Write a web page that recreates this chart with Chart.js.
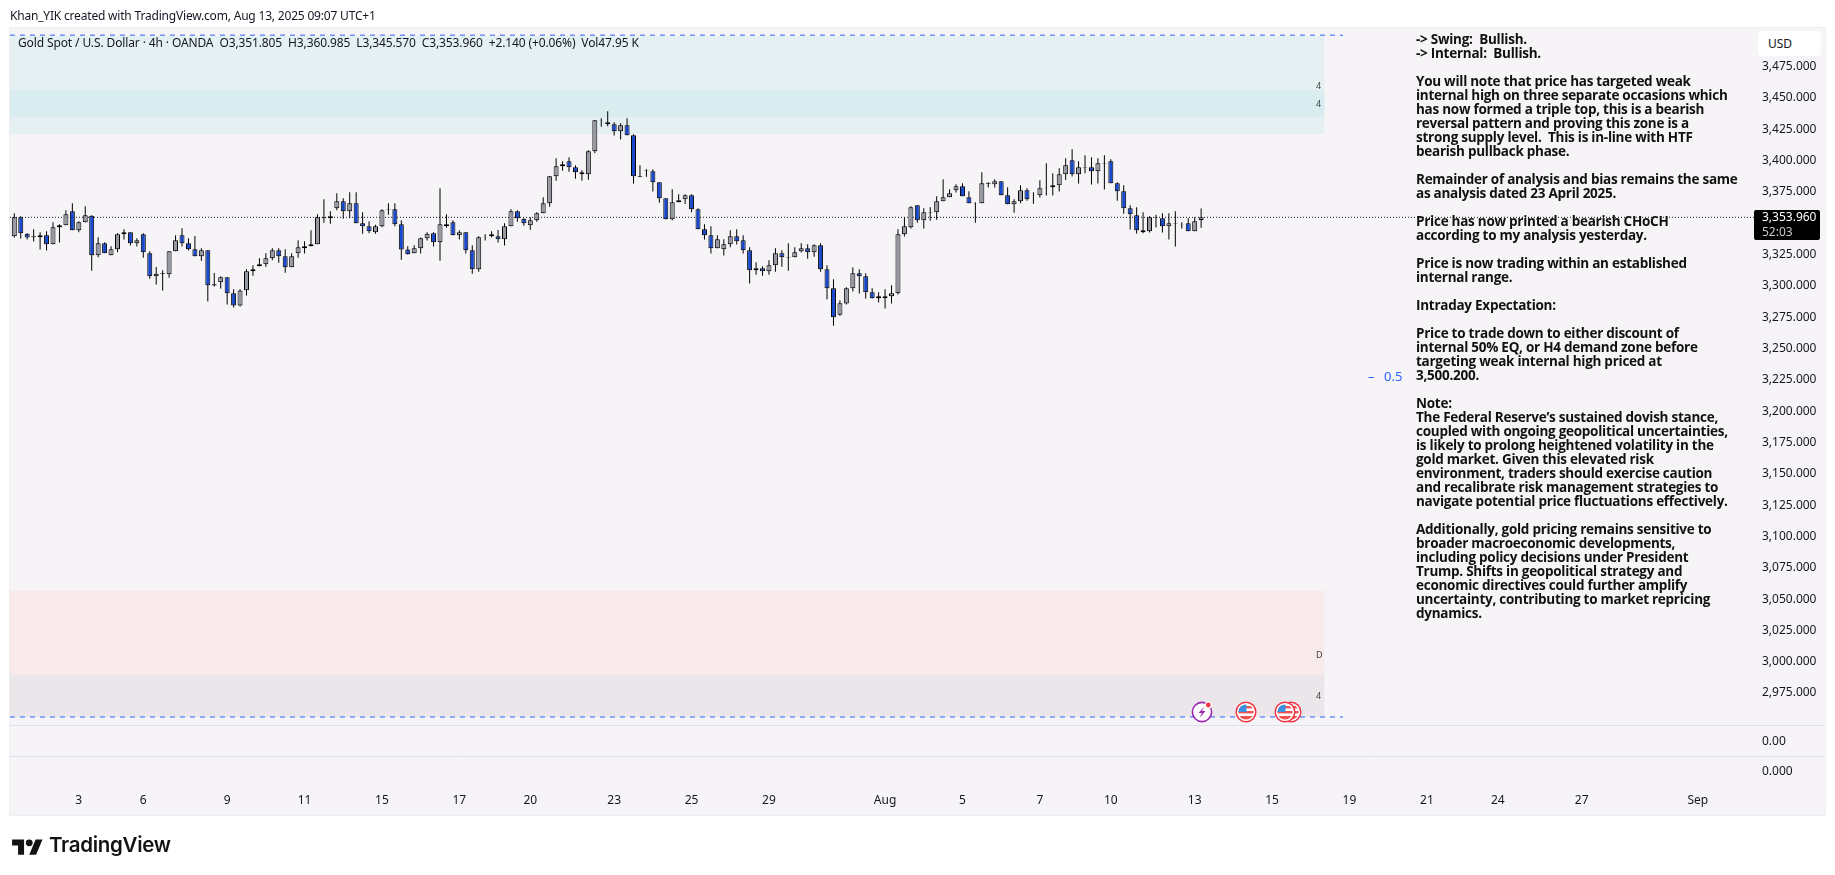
<!DOCTYPE html>
<html>
<head>
<meta charset="utf-8">
<title>Gold Spot / U.S. Dollar</title>
<script src="https://cdn.jsdelivr.net/npm/chart.js@4"></script>
<style>
  html, body { margin: 0; padding: 0; background: #fff; width: 1835px; height: 875px; overflow: hidden; }
  body { font-family: "Noto Sans", sans-serif; color: #131722; }
  #frame { position: absolute; left: 9px; top: 27px; width: 1815px; height: 787px; background: #f6f4f6; border: 1px solid #efeff2; }
  #chart { position: absolute; left: 0; top: 0; }
  .txt { position: absolute; white-space: pre; }
  #note { left: 1416px; top: 32px; font: bold 13.5px/14px "Open Sans", sans-serif; color: #111; letter-spacing: -0.26px; }
  #usd { left: 1758px; top: 31px; width: 53px; height: 25px; padding-left: 10px; background: #fff; border-radius: 4px; font-size: 12px; line-height: 25px; }
  #tag { left: 1754px; top: 210px; width: 58px; height: 30px; padding: 0 0 0 8px; background: #000; color: #fff; border-radius: 2px; font-size: 12px; line-height: 14.5px; }
  #tag span { color: #c8c8c8; }
  .mini { font-size: 9px; color: #444; }
  svg { position: absolute; }
</style>
</head>
<body>
<div id="frame"></div>
<canvas id="chart" width="1835" height="875"></canvas>

<div class="txt" style="left:10px;top:7px;font-size:12px;letter-spacing:-0.19px;">Khan_YIK created with TradingView.com, Aug 13, 2025 09:07 UTC+1</div>
<div class="txt" style="left:18px;top:34px;font-size:12px;letter-spacing:-0.12px;">Gold Spot / U.S. Dollar · 4h · OANDA  O3,351.805  H3,360.985  L3,345.570  C3,353.960  +2.140 (+0.06%)  Vol47.95 K</div>

<div id="note" class="txt"></div>
<div id="usd" class="txt">USD</div>
<div id="tag" class="txt">3,353.960
<span>52:03</span></div>

<div class="txt mini" style="left:1316px;top:79px;">4</div>
<div class="txt mini" style="left:1316px;top:97px;">4</div>
<div class="txt mini" style="left:1316px;top:648px;">D</div>
<div class="txt mini" style="left:1316px;top:689px;">4</div>
<div class="txt" style="left:1368px;top:367px;font-size:13px;color:#2962ff;">–</div>
<div class="txt" style="left:1384px;top:367px;font-size:13px;color:#2962ff;">0.5</div>

<!-- event icons on the time axis -->
<svg style="left:1190px;top:700px" width="24" height="24" viewBox="0 0 24 24">
  <circle cx="12" cy="12" r="9.6" fill="#fff" stroke="#9c27b0" stroke-width="1.6"/>
  <path d="M14.5 6.5 L8.5 13 H12 L9.5 18 L15.5 11 H12 Z" fill="#9c27b0"/>
  <circle cx="18.3" cy="5" r="3.6" fill="#fff"/><circle cx="18.3" cy="5" r="2.4" fill="#f23645"/>
</svg>
<svg width="0" height="0">
  <defs>
    <g id="usFlag">
      <circle cx="12" cy="12" r="9.8" fill="#fff" stroke="#f23645" stroke-width="1.5"/>
      <clipPath id="flagClip"><circle cx="12" cy="12" r="7.6"/></clipPath>
      <g clip-path="url(#flagClip)">
        <rect x="3" y="6" width="18" height="2.4" fill="#ef5350"/>
        <rect x="3" y="11" width="18" height="2.4" fill="#ef5350"/>
        <rect x="3" y="16" width="18" height="4.8" fill="#ef5350"/>
        <rect x="3" y="3" width="9.5" height="9" fill="#3d8fe0"/>
      </g>
    </g>
  </defs>
</svg>
<svg style="left:1234px;top:700px" width="24" height="24"><use href="#usFlag"/></svg>
<svg style="left:1279px;top:700px" width="24" height="24"><use href="#usFlag"/></svg>
<svg style="left:1273px;top:700px" width="24" height="24"><use href="#usFlag"/></svg>

<!-- logo -->
<svg style="left:12px;top:836px" width="31" height="24" viewBox="0 0 36 28">
  <path d="M14 22H7V11H0V4h14v18zM28 22h-8l7.5-18h8L28 22z" fill="#131313"/>
  <circle cx="20" cy="8" r="4" fill="#131313"/>
</svg>
<div class="txt" style="left:49px;top:830px;font:600 20.5px/30px Inter, sans-serif;color:#131313;letter-spacing:-0.3px;">TradingView</div>

<script>
// 4h candles
const opens = [
  3338.8,3354.0,3340.9,3338.8,3338.0,3339.6,3332.4,3346.0,3347.6,3358.8,
  3343.6,3350.0,3355.3,3323.7,3333.2,3323.7,3328.5,3340.4,3342.0,3333.2,
  3340.4,3325.3,3306.9,3309.6,3308.5,3326.9,3339.6,3333.2,3328.5,3322.9,
  3327.7,3300.5,3302.1,3306.1,3293.4,3283.5,3295.7,3310.9,3314.9,3316.5,
  3321.3,3327.7,3322.9,3314.1,3325.3,3329.2,3330.8,3332.4,3354.0,3353.2,
  3361.2,3366.8,3358.8,3365.2,3349.2,3346.8,3342.0,3346.8,3360.4,3360.4,
  3348.4,3328.2,3325.3,3329.2,3337.2,3341.2,3334.0,3348.4,3350.0,3339.6,
  3342.0,3327.7,3312.5,3338.3,3340.4,3338.8,3336.4,3346.8,3358.8,3352.9,
  3347.6,3351.6,3357.2,3365.2,3386.7,3394.7,3398.7,3393.9,3389.9,3388.3,
  3406.7,3431.7,3429.8,3428.2,3422.6,3427.4,3419.4,3386.7,3391.5,3390.7,
  3381.9,3369.1,3352.4,3366.0,3368.4,3371.5,3360.4,3344.4,3339.6,3329.2,
  3328.5,3332.4,3338.8,3335.6,3327.7,3311.7,3313.3,3310.9,3315.7,3325.3,
  3322.1,3322.1,3326.9,3329.2,3326.1,3331.6,3312.5,3297.3,3276.3,3285.1,
  3297.4,3309.3,3306.9,3294.2,3289.4,3289.4,3291.0,3293.4,3340.4,3346.0,
  3363.6,3351.6,3358.0,3358.0,3366.8,3370.0,3375.6,3378.7,3370.0,3365.4,
  3365.2,3381.1,3380.3,3382.7,3371.6,3364.4,3366.8,3375.6,3371.6,3371.6,
  3377.9,3377.9,3379.5,3388.3,3399.5,3388.3,3393.9,3393.9,3390.7,3397.1,
  3398.7,3381.1,3374.8,3361.2,3355.6,3343.6,3342.8,3354.0,3353.2,3346.8,
  3349.2,3348.1,3349.2,3342.8,3351.805
];
const closes = [
  3354.0,3341.2,3337.8,3338.0,3339.6,3332.4,3346.0,3347.6,3356.4,3343.6,
  3350.0,3355.6,3323.7,3333.2,3325.3,3328.5,3340.4,3342.0,3333.2,3335.6,
  3326.1,3306.9,3309.0,3309.0,3326.9,3335.6,3333.2,3328.5,3322.9,3327.7,
  3299.7,3299.5,3306.1,3293.4,3283.5,3295.5,3310.9,3312.5,3316.5,3321.3,
  3327.7,3322.9,3314.1,3322.9,3330.0,3330.8,3332.4,3354.0,3353.2,3354.8,
  3366.8,3358.8,3365.2,3349.2,3346.8,3342.8,3346.8,3359.6,3360.1,3348.4,
  3328.2,3324.5,3329.2,3337.2,3340.9,3334.0,3348.4,3346.8,3339.6,3342.0,
  3327.7,3312.5,3338.0,3338.0,3338.8,3336.4,3346.8,3358.8,3353.2,3349.2,
  3351.6,3357.2,3365.2,3386.7,3394.7,3396.3,3393.9,3389.9,3388.3,3406.7,
  3431.4,3431.4,3428.2,3422.6,3427.4,3419.4,3386.7,3386.2,3391.2,3381.9,
  3369.1,3352.4,3366.0,3367.6,3371.5,3360.4,3344.4,3339.6,3329.2,3336.4,
  3332.4,3338.8,3334.8,3327.7,3311.7,3313.3,3310.9,3315.7,3325.3,3322.1,
  3321.8,3326.1,3329.2,3326.1,3331.6,3312.5,3297.3,3274.2,3285.4,3297.4,
  3309.3,3306.9,3294.2,3289.4,3291.0,3291.0,3293.4,3340.4,3346.8,3362.0,
  3351.6,3358.0,3357.7,3366.8,3370.0,3373.2,3378.7,3370.8,3365.2,3365.2,
  3381.1,3380.6,3382.7,3371.6,3364.4,3366.8,3375.6,3368.4,3371.3,3377.1,
  3377.7,3379.5,3388.3,3395.5,3388.3,3393.9,3393.6,3390.7,3397.1,3396.8,
  3381.1,3374.8,3361.2,3356.4,3343.6,3342.0,3354.0,3353.7,3346.8,3349.2,
  3348.9,3347.6,3342.8,3350.8,3353.96
];
const highs = [
  3357.2,3354.8,3341.2,3344.4,3342.0,3342.8,3350.0,3348.4,3359.6,3365.2,
  3350.8,3362.8,3355.6,3338.0,3334.0,3330.8,3341.2,3344.4,3342.0,3337.2,
  3341.2,3326.9,3314.4,3311.7,3326.9,3339.6,3345.2,3337.2,3339.1,3329.2,
  3327.7,3309.6,3306.9,3306.1,3296.5,3296.5,3312.5,3315.7,3321.3,3325.3,
  3329.2,3329.2,3328.5,3325.3,3335.6,3334.8,3343.6,3356.4,3368.4,3358.8,
  3373.1,3369.1,3373.9,3373.9,3358.0,3350.8,3348.1,3360.4,3365.2,3365.2,
  3351.6,3330.8,3331.6,3337.8,3342.0,3342.0,3377.1,3356.4,3351.6,3343.6,
  3342.0,3331.6,3338.8,3340.4,3342.8,3343.9,3349.2,3360.4,3359.6,3353.2,
  3354.0,3358.0,3369.9,3387.0,3401.1,3398.7,3401.9,3395.5,3391.5,3407.5,
  3431.7,3433.0,3438.6,3429.8,3429.0,3433.0,3420.2,3395.5,3392.3,3392.3,
  3381.9,3369.1,3376.3,3372.3,3372.3,3372.3,3361.2,3348.4,3346.8,3339.6,
  3336.4,3343.6,3344.4,3339.6,3330.0,3318.1,3314.9,3319.7,3329.2,3327.7,
  3333.2,3330.0,3333.2,3332.4,3332.4,3333.2,3315.7,3304.5,3287.8,3298.1,
  3314.1,3312.5,3309.3,3297.4,3294.2,3296.5,3299.7,3344.4,3354.0,3362.8,
  3363.6,3361.2,3362.0,3370.8,3384.3,3376.4,3380.3,3381.1,3374.8,3366.0,
  3389.9,3381.9,3384.3,3382.7,3377.9,3368.4,3379.5,3377.1,3373.9,3383.5,
  3397.1,3389.1,3393.1,3401.1,3408.3,3398.7,3403.5,3401.9,3401.1,3403.5,
  3400.3,3381.9,3379.5,3363.6,3362.0,3358.0,3354.8,3356.1,3357.2,3357.2,
  3358.8,3350.0,3353.2,3354.0,3360.985
];
const lows = [
  3337.8,3337.0,3336.2,3334.6,3328.2,3327.4,3332.4,3333.8,3347.6,3343.6,
  3342.0,3350.0,3311.4,3322.1,3325.3,3323.7,3326.1,3336.2,3331.4,3330.6,
  3321.8,3305.0,3300.3,3295.5,3305.8,3326.9,3330.6,3327.4,3322.9,3319.4,
  3286.7,3298.7,3297.1,3284.3,3281.9,3282.7,3291.5,3307.4,3314.9,3314.6,
  3319.7,3317.8,3309.8,3314.1,3321.8,3325.0,3330.8,3332.4,3349.7,3348.9,
  3359.6,3352.9,3353.2,3349.2,3340.9,3341.2,3340.9,3346.0,3356.1,3346.8,
  3320.2,3324.2,3325.3,3325.0,3335.4,3330.6,3319.4,3345.7,3339.6,3336.2,
  3325.0,3309.0,3310.6,3335.4,3337.8,3333.8,3331.4,3346.8,3350.5,3347.3,
  3344.1,3350.5,3357.2,3362.5,3383.2,3391.2,3390.4,3384.8,3383.2,3384.0,
  3405.1,3426.3,3426.6,3419.2,3416.0,3419.4,3380.9,3385.9,3386.4,3374.5,
  3365.7,3352.4,3351.6,3366.0,3364.6,3358.0,3344.4,3336.2,3325.0,3329.2,
  3323.4,3330.0,3332.2,3325.0,3301.1,3308.2,3307.4,3308.2,3310.6,3314.6,
  3311.4,3322.1,3325.8,3321.0,3322.6,3310.6,3288.6,3267.5,3275.5,3284.3,
  3294.7,3293.1,3289.1,3289.1,3285.9,3281.1,3285.1,3292.3,3338.6,3345.0,
  3349.7,3345.0,3351.3,3352.1,3366.8,3370.0,3373.7,3370.8,3365.2,3349.7,
  3365.2,3377.7,3377.7,3371.6,3364.4,3357.7,3365.2,3367.3,3364.9,3369.7,
  3371.3,3371.3,3374.5,3383.8,3386.5,3380.9,3389.1,3380.1,3380.9,3376.1,
  3381.1,3367.3,3356.9,3344.2,3341.0,3341.2,3341.8,3345.8,3341.8,3336.2,
  3330.6,3345.0,3342.8,3342.8,3345.57
];

const priceTicks = [3475,3450,3425,3400,3375,3325,3300,3275,3250,3225,3200,3175,3150,3125,3100,3075,3050,3025,3000,2975];
const timeTickBars = [10,20,33,45,57,69,80,93,105,117,135,147,159,170,183,195,207,219,230,243,261];
const timeTickLabels = ["3","6","9","11","15","17","20","23","25","29","Aug","5","7","10","13","15","19","21","24","27","Sep"];

// supply and demand boxes: top price, bottom price, colour
const zoneTops =    [3498.7, 3455.6, 3055.9, 2988.8];
const zoneBottoms = [3420.5, 3434.1, 2988.8, 2955.1];
const zoneColors =  ["#e5f0f2", "#d9ecf0", "#f8eaea", "#ebe6ea"];
const zoneLastBar = 203.1;

const lastPrice = 3353.96;
const upperLevel = 3499.4;
const lowerLevel = 2955.1;
const levelLastBar = 206;

const noteLines = [
  "-> Swing:  Bullish.", "-> Internal:  Bullish.", "",
  "You will note that price has targeted weak", "internal high on three separate occasions which",
  "has now formed a triple top, this is a bearish", "reversal pattern and proving this zone is a",
  "strong supply level.  This is in-line with HTF", "bearish pullback phase.", "",
  "Remainder of analysis and bias remains the same", "as analysis dated 23 April 2025.", "",
  "Price has now printed a bearish CHoCH", "according to my analysis yesterday.", "",
  "Price is now trading within an established", "internal range.", "",
  "Intraday Expectation:", "",
  "Price to trade down to either discount of", "internal 50% EQ, or H4 demand zone before",
  "targeting weak internal high priced at", "3,500.200.", "",
  "Note:", "The Federal Reserve’s sustained dovish stance,", "coupled with ongoing geopolitical uncertainties,",
  "is likely to prolong heightened volatility in the", "gold market. Given this elevated risk",
  "environment, traders should exercise caution", "and recalibrate risk management strategies to",
  "navigate potential price fluctuations effectively.", "",
  "Additionally, gold pricing remains sensitive to", "broader macroeconomic developments,",
  "including policy decisions under President", "Trump. Shifts in geopolitical strategy and",
  "economic directives could further amplify", "uncertainty, contributing to market repricing", "dynamics."
];
document.getElementById("note").textContent = noteLines.join("\n");

const UP = "#9598a1";
const DOWN = "#1848cc";
const BLACK = "#000000";
const X_MIN = -0.667;
const X_MAX = 269.87;

Chart.defaults.font.family = '"Noto Sans", sans-serif';
Chart.defaults.font.size = 12;
Chart.defaults.color = "#131722";

const paneDecor = {
  id: "paneDecor",
  beforeDatasetsDraw(chart) {
    const { ctx, scales } = chart;
    const { x, y, yOsc } = scales;
    ctx.save();
    zoneTops.forEach((top, i) => {
      const px0 = x.getPixelForValue(X_MIN);
      const px1 = x.getPixelForValue(zoneLastBar);
      const py0 = y.getPixelForValue(top);
      const py1 = y.getPixelForValue(zoneBottoms[i]);
      ctx.fillStyle = zoneColors[i];
      ctx.fillRect(px0, py0, px1 - px0, py1 - py0);
    });
    // pane separators
    ctx.strokeStyle = "#e0e0ea";
    ctx.lineWidth = 1;
    [y.bottom, yOsc.bottom].forEach(py => {
      ctx.beginPath();
      ctx.moveTo(chart.chartArea.left, Math.round(py) + 0.5);
      ctx.lineTo(1824, Math.round(py) + 0.5);
      ctx.stroke();
    });
    ctx.restore();
  }
};

function paneWidth(scale) { scale.width = 70; }

new Chart(document.getElementById("chart").getContext("2d"), {
  type: "bar",
  plugins: [paneDecor],
  data: {
    datasets: [
      {
        type: "line", order: 5, xAxisID: "x", yAxisID: "y",
        data: [{ x: X_MIN, y: lastPrice }, { x: X_MAX, y: lastPrice }],
        borderColor: "#131722", borderWidth: 1, borderDash: [1, 2], pointRadius: 0
      },
      {
        type: "line", order: 5, xAxisID: "x", yAxisID: "y",
        data: [{ x: X_MIN, y: upperLevel }, { x: levelLastBar, y: upperLevel }],
        borderColor: "#2962ff", borderWidth: 1, borderDash: [5, 5], pointRadius: 0
      },
      {
        type: "line", order: 5, xAxisID: "x", yAxisID: "y",
        data: [{ x: X_MIN, y: lowerLevel }, { x: levelLastBar, y: lowerLevel }],
        borderColor: "#2962ff", borderWidth: 1, borderDash: [5, 5], pointRadius: 0
      },
      {
        order: 3, xAxisID: "x", yAxisID: "y", grouped: false,
        data: lows.map((l, i) => ({ x: i, y: [l, highs[i]] })),
        backgroundColor: BLACK, borderWidth: 0, inflateAmount: 0,
        barPercentage: 1, categoryPercentage: 1, maxBarThickness: 1
      },
      {
        order: 2, xAxisID: "x", yAxisID: "y", grouped: false,
        data: opens.map((o, i) => ({ x: i, y: [o, closes[i]] })),
        backgroundColor: opens.map((o, i) => closes[i] >= o ? UP : DOWN),
        borderColor: BLACK, borderWidth: 1, borderSkipped: false, inflateAmount: 0,
        barPercentage: 1, categoryPercentage: 1, maxBarThickness: 5
      }
    ]
  },
  options: {
    responsive: false,
    animation: false,
    devicePixelRatio: 1,
    layout: { padding: { left: 10, right: 10, top: 27.5, bottom: 60 } },
    plugins: { legend: { display: false }, tooltip: { enabled: false } },
    scales: {
      x: {
        type: "linear", position: "bottom", min: X_MIN, max: X_MAX, offset: false,
        grid: { display: false, drawTicks: false }, border: { display: false },
        afterBuildTicks(scale) { scale.ticks = timeTickBars.map(v => ({ value: v })); },
        afterFit(scale) { scale.height = 29; },
        ticks: {
          autoSkip: false, maxRotation: 0, padding: 7,
          callback: v => timeTickLabels[timeTickBars.indexOf(v)]
        }
      },
      y: {
        type: "linear", position: "right", stack: "panes", stackWeight: 697.8,
        min: 2948.7, max: 3505.5,
        grid: { display: false, drawTicks: false }, border: { display: false },
        afterBuildTicks(scale) { scale.ticks = priceTicks.map(v => ({ value: v })); },
        afterFit: paneWidth,
        ticks: {
          padding: 7, autoSkip: false, labelOffset: 1,
          callback: v => v.toLocaleString("en-US", { minimumFractionDigits: 3 })
        }
      },
      yOsc: {
        type: "linear", position: "right", stack: "panes", stackWeight: 31,
        min: 0, max: 1,
        grid: { display: false, drawTicks: false }, border: { display: false },
        afterBuildTicks(scale) { scale.ticks = [{ value: 0.5 }]; },
        afterFit: paneWidth,
        ticks: { padding: 7, labelOffset: 1, callback: () => "0.00" }
      },
      yVol: {
        type: "linear", position: "right", stack: "panes", stackWeight: 30,
        min: 0, max: 1,
        grid: { display: false, drawTicks: false }, border: { display: false },
        afterBuildTicks(scale) { scale.ticks = [{ value: 0.5 }]; },
        afterFit: paneWidth,
        ticks: { padding: 7, labelOffset: 1, callback: () => "0.000" }
      }
    }
  }
});
</script>
</body>
</html>
